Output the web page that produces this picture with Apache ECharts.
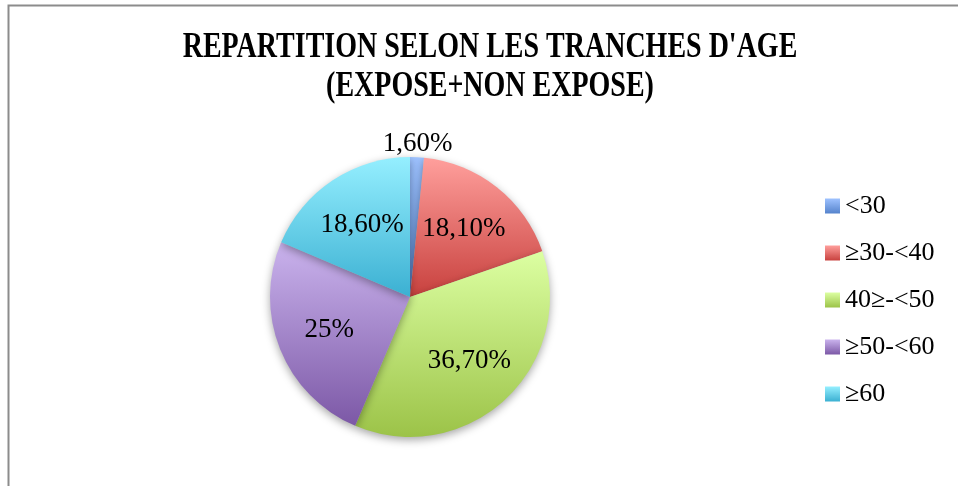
<!DOCTYPE html>
<html>
<head>
<meta charset="utf-8">
<script src="https://cdn.jsdelivr.net/npm/echarts@6/dist/echarts.min.js"></script>
<style>
html,body{margin:0;padding:0;background:#fff;}
#chart{width:958px;height:486px;}
</style>
</head>
<body>
<div id="chart"></div>
<script>
const titleText = "REPARTITION SELON LES TRANCHES D'AGE\n(EXPOSE+NON EXPOSE)";
const categories = ['<30', '≥30-<40', '40≥-<50', '≥50-<60', '≥60'];
const values = [1.6, 18.1, 36.7, 25, 18.6];
const valueLabels = ['1,60%', '18,10%', '36,70%', '25%', '18,60%'];
const colorTops = ['#9EC2FF', '#FF9F9C', '#DCFFA2', '#CAB3ED', '#95EFFF'];
const colorBottoms = ['#5583CC', '#C8413E', '#9CC348', '#7C58A6', '#3BB0D2'];

function grad(i) {
  return new echarts.graphic.LinearGradient(0, 0, 0, 1, [
    { offset: 0, color: colorTops[i] },
    { offset: 1, color: colorBottoms[i] }
  ]);
}

const chart = echarts.init(document.getElementById('chart'), null, { renderer: 'canvas' });

const mainData = categories.map((name, i) => ({
  name: name,
  value: values[i],
  itemStyle: { color: grad(i) }
}));

// label layer for the large slices (inside)
const innerLabelData = categories.map((name, i) => ({
  name: name,
  value: values[i],
  label: { show: i !== 0, formatter: valueLabels[i] }
}));

// label layer for the tiny slice (just outside the rim)
const outerLabelData = categories.map((name, i) => ({
  name: name,
  value: values[i],
  label: { show: i === 0, formatter: valueLabels[i] }
}));

const labelFont = { fontFamily: 'Liberation Serif', fontSize: 27, color: '#000' };

chart.setOption({
  animation: false,
  backgroundColor: '#fff',
  graphic: [
    {
      type: 'rect',
      shape: { x: 8.5, y: 5.5, width: 1200, height: 600 },
      style: { fill: 'none', stroke: '#8c8c8c', lineWidth: 2 },
      silent: true,
      z: -10
    },
    {
      type: 'text',
      x: 490,
      y: 67,
      scaleX: 0.8,
      style: {
        text: titleText,
        fontFamily: 'Liberation Serif',
        fontWeight: 'bold',
        fontSize: 35,
        lineHeight: 39,
        fill: '#000',
        align: 'center',
        verticalAlign: 'middle'
      },
      silent: true
    }
  ],
  legend: {
    orient: 'vertical',
    left: 825,
    top: 193,
    padding: 0,
    itemWidth: 15,
    itemHeight: 15,
    itemGap: 21,
    icon: 'rect',
    data: categories,
    textStyle: { fontFamily: 'Liberation Serif', fontSize: 26, color: '#000' }
  },
  series: [
    {
      type: 'pie',
      center: [410, 297],
      radius: [0, 140],
      startAngle: 90,
      clockwise: true,
      data: mainData,
      label: { show: false },
      labelLine: { show: false },
      itemStyle: {
        shadowBlur: 8,
        shadowColor: 'rgba(0,0,0,0.35)',
        shadowOffsetY: 3
      },
      emphasis: { disabled: true }
    },
    {
      type: 'pie',
      center: [410, 297],
      radius: [0, 168],
      startAngle: 90,
      clockwise: true,
      silent: true,
      avoidLabelOverlap: false,
      data: innerLabelData,
      itemStyle: { color: 'rgba(0,0,0,0)' },
      label: Object.assign({ position: 'inside' }, labelFont),
      labelLine: { show: false },
      emphasis: { disabled: true },
      legendHoverLink: false
    },
    {
      type: 'pie',
      center: [410, 297],
      radius: [140, 161],
      startAngle: 90,
      clockwise: true,
      silent: true,
      avoidLabelOverlap: false,
      data: outerLabelData,
      itemStyle: { color: 'rgba(0,0,0,0)' },
      label: Object.assign({ position: 'inside' }, labelFont),
      labelLine: { show: false },
      emphasis: { disabled: true },
      legendHoverLink: false
    }
  ]
});
</script>
</body>
</html>
